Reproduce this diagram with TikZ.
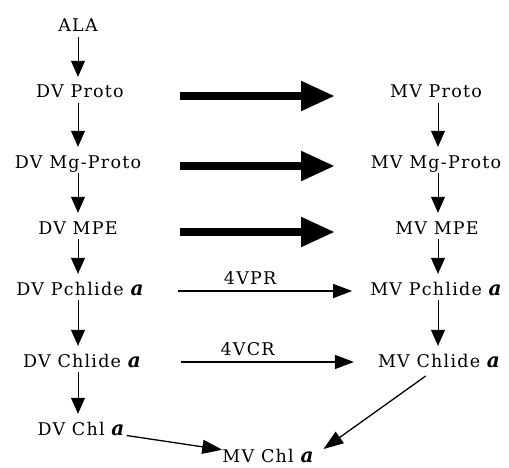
\documentclass[tikz,border=0pt]{standalone}
\usepackage{fontspec}
\setmainfont{DejaVu Serif}
\newfontfamily\labelfont[LetterSpace=7]{DejaVu Serif}
\usetikzlibrary{arrows.meta}
% italic chlorophyll "a"
\newcommand{\chla}{{\bfseries\itshape\fontsize{20}{20}\selectfont a}}
\begin{document}
\begin{tikzpicture}[x=1pt,y=-1pt,
  lbl/.style={inner sep=0pt, text height=12pt, text depth=0pt, anchor=base,
    font=\labelfont\fontsize{17.5}{20}\selectfont},
  vstep/.style={-{Triangle[length=16pt,width=14pt]}, line width=0.7pt,
    shorten <=5pt, shorten >=9pt},
  bigstep/.style={-{Triangle[length=34pt,width=28pt]}, line width=8pt},
  thinstep/.style={-{Triangle[length=19pt,width=14pt]}, line width=1.3pt},
  diagstep/.style={-{Triangle[length=20pt,width=14pt]}, line width=1.3pt}]
\useasboundingbox (0,0) rectangle (509,468);

% column axes for the vertical steps
\coordinate (colL) at (78,0);
\coordinate (colR) at (438,0);
% start and end of the heavy arrows
\coordinate (bigA) at (180,0);
\coordinate (bigB) at (335,0);

% divinyl branch
\node[lbl] (ala)     at (78,32)  {ALA};
\node[lbl] (dvproto) at (80,98)  {DV Proto};
\node[lbl] (dvmg)    at (78,168) {DV Mg-Proto};
\node[lbl] (dvmpe)   at (78,234) {DV MPE};
\node[lbl] (dvpch)   at (80,295) {DV Pchlide \chla};
\node[lbl] (dvchl)   at (82,367) {DV Chlide \chla};
\node[lbl] (dvchla)  at (81,435) {DV Chl \chla};

% monovinyl branch
\node[lbl] (mvproto) at (436,98)  {MV Proto};
\node[lbl] (mvmg)    at (436,168) {MV Mg-Proto};
\node[lbl] (mvmpe)   at (437,234) {MV MPE};
\node[lbl] (mvpch)   at (436,295) {MV Pchlide \chla};
\node[lbl] (mvchl)   at (439,367) {MV Chlide \chla};
\node[lbl] (mvchla)  at (268,462) {MV Chl \chla};

% vertical steps
\draw[vstep] (ala.south -| colL)     -- (dvproto.north -| colL);
\draw[vstep] (dvproto.south -| colL) -- (dvmg.north -| colL);
\draw[vstep] (dvmg.south -| colL)    -- (dvmpe.north -| colL);
\draw[vstep] (dvmpe.south -| colL)   -- (dvpch.north -| colL);
\draw[vstep] (dvpch.south -| colL)   -- (dvchl.north -| colL);
\draw[vstep] (dvchl.south -| colL)   -- (dvchla.north -| colL);

\draw[vstep] (mvproto.south -| colR) -- (mvmg.north -| colR);
\draw[vstep] (mvmg.south -| colR)    -- (mvmpe.north -| colR);
\draw[vstep] (mvmpe.south -| colR)   -- (mvpch.north -| colR);
\draw[vstep] (mvpch.south -| colR)   -- (mvchl.north -| colR);

% heavy conversion arrows
\draw[bigstep] ([yshift=-4pt]dvproto.center -| bigA) -- ([yshift=-4pt]mvproto.center -| bigB);
\draw[bigstep] ([yshift=-4pt]dvmg.center -| bigA)    -- ([yshift=-4pt]mvmg.center -| bigB);
\draw[bigstep] ([yshift=-4pt]dvmpe.center -| bigA)   -- ([yshift=-4pt]mvmpe.center -| bigB);

% reductase steps
\draw[thinstep, shorten <=34pt, shorten >=18pt] ([yshift=-2pt]dvpch.east) --
  node[lbl, pos=0.47, above=6pt, anchor=south] {4VPR} ([yshift=-2pt]mvpch.west);
\draw[thinstep, shorten <=40pt, shorten >=24pt] ([yshift=-1pt]dvchl.east) --
  node[lbl, pos=0.45, above=6pt, anchor=south] {4VCR} ([yshift=-1pt]mvchl.west);

% final steps to MV Chl a
\draw[diagstep, shorten <=2pt] (dvchla.south east) -- (mvchla.north west);
\draw[diagstep, shorten <=15pt, shorten >=12pt] (mvchl.south -| colR) -- (mvchla.east);
\end{tikzpicture}
\end{document}
